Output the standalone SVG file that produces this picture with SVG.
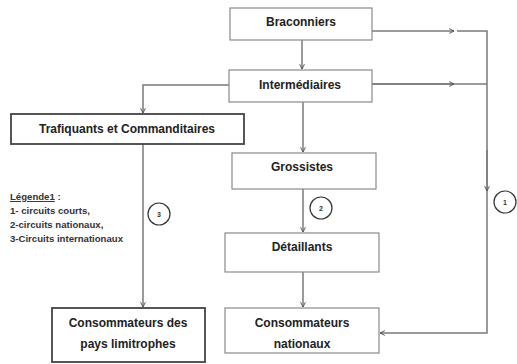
<svg xmlns="http://www.w3.org/2000/svg" width="517" height="364" viewBox="0 0 517 364">
<style>
.box{fill:#fff;stroke:#8a8a8a;stroke-width:1.2}
.bold{fill:#fff;stroke:#444;stroke-width:1.8}
.t{font-family:"Liberation Sans",Arial,sans-serif;font-weight:bold;font-size:12px;fill:#222;text-anchor:middle}
.lg{font-family:"Liberation Sans",Arial,sans-serif;font-weight:bold;font-size:9.6px;fill:#333}
.c{fill:#fff;stroke:#333;stroke-width:1.2}
.ct{font-family:"Liberation Sans",Arial,sans-serif;font-weight:bold;font-size:7px;fill:#333;text-anchor:middle}
.ln{fill:none;stroke:#7a7a7a;stroke-width:1.5}
</style>
<defs>
<marker id="ah" viewBox="0 0 10 10" refX="9" refY="5" markerWidth="6" markerHeight="6" orient="auto" markerUnits="userSpaceOnUse">
<path d="M1,1 L9,5 L1,9" fill="none" stroke="#555" stroke-width="1.6"/>
</marker>
</defs>
<rect width="517" height="364" fill="#fff"/>
<g id="connectors">
<line class="ln" x1="302" y1="40" x2="302" y2="69" marker-end="url(#ah)"/>
<line class="ln" x1="372" y1="31" x2="454" y2="31" marker-end="url(#ah)"/>
<polyline class="ln" points="457,31 487,31 487,333 380,333" marker-end="url(#ah)"/>
<line class="ln" x1="487" y1="150" x2="487" y2="191" marker-end="url(#ah)"/>
<line class="ln" x1="372" y1="84" x2="487" y2="84"/>
<line class="ln" x1="372" y1="84" x2="454" y2="84" marker-end="url(#ah)"/>
<polyline class="ln" points="229,85 143,85 143,113" marker-end="url(#ah)"/>
<line class="ln" x1="303" y1="102" x2="303" y2="152" marker-end="url(#ah)"/>
<line class="ln" x1="303" y1="189" x2="303" y2="232" marker-end="url(#ah)"/>
<line class="ln" x1="303" y1="272" x2="303" y2="307" marker-end="url(#ah)"/>
<line class="ln" x1="143" y1="144" x2="143" y2="307" marker-end="url(#ah)"/>
</g>
<g id="braconniers"><rect class="box" x="230" y="8" width="142" height="32"/><text class="t" x="301" y="26">Braconniers</text></g>
<g id="intermediaires"><rect class="box" x="229" y="70" width="143" height="32"/><text class="t" x="300" y="89">Intermédiaires</text></g>
<g id="trafiquants"><rect class="bold" x="11" y="114" width="233" height="30"/><text class="t" x="127" y="133">Trafiquants et Commanditaires</text></g>
<g id="grossistes"><rect class="box" x="232" y="153" width="144" height="36"/><text class="t" x="302" y="171">Grossistes</text></g>
<g id="detaillants"><rect class="box" x="225" y="233" width="154" height="39"/><text class="t" x="302" y="251">Détaillants</text></g>
<g id="conso-nationaux"><rect class="box" x="225" y="308" width="154" height="45"/><text class="t" x="302" y="327">Consommateurs</text><text class="t" x="302" y="348">nationaux</text></g>
<g id="conso-limitrophes"><rect class="bold" x="52" y="308" width="153" height="54"/><text class="t" x="128" y="327">Consommateurs des</text><text class="t" x="128" y="348">pays limitrophes</text></g>
<g id="label-3"><circle class="c" cx="159" cy="214" r="11"/><text class="ct" x="159" y="216.5">3</text></g>
<g id="label-2"><circle class="c" cx="321" cy="208" r="11"/><text class="ct" x="321" y="210.5">2</text></g>
<g id="label-1"><circle class="c" cx="505" cy="202" r="11"/><text class="ct" x="505" y="204.5">1</text></g>
<g id="legend">
<text class="lg" x="10" y="200"><tspan text-decoration="underline">Légende1</tspan> :</text>
<text class="lg" x="10" y="214">1- circuits courts,</text>
<text class="lg" x="10" y="228">2-circuits nationaux,</text>
<text class="lg" x="10" y="242">3-Circuits internationaux</text>
</g>
</svg>
